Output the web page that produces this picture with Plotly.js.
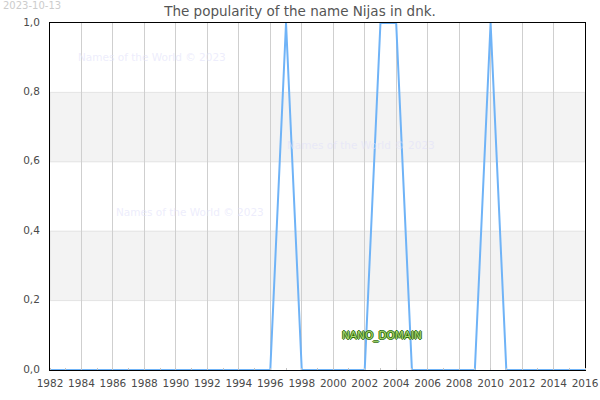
<!DOCTYPE html>
<html><head><meta charset="utf-8">
<script src="https://cdn.plot.ly/plotly-3.0.1.min.js"></script>
<style>html,body{margin:0;padding:0;background:#fff}</style></head>
<body><div id="chart" style="width:600px;height:400px"></div>
<script>
const years = [1982,1983,1984,1985,1986,1987,1988,1989,1990,1991,1992,1993,1994,1995,1996,1997,1998,1999,2000,2001,2002,2003,2004,2005,2006,2007,2008,2009,2010,2011,2012,2013,2014,2015,2016];
const popularity = [0,0,0,0,0,0,0,0,0,0,0,0,0,0,0,1,0,0,0,0,0,1,1,0,0,0,0,0,1,0,0,0,0,0,0];
const xTicks = [1982,1984,1986,1988,1990,1992,1994,1996,1998,2000,2002,2004,2006,2008,2010,2012,2014,2016];
const yTicks = [0,0.2,0.4,0.6,0.8,1.0];
const yLabels = ['0,0','0,2','0,4','0,6','0,8','1,0'];
const bands = [[0.2,0.4],[0.6,0.8]];
const titleText = 'The popularity of the name Nijas in dnk.';
const dateText = '2023-10-13';
const watermark = 'Names of the World © 2023';
const domainText = 'NANO_DOMAIN';
const fontFam = '"DejaVu Sans", sans-serif';

const shapes = bands.map(b => ({type:'rect',xref:'paper',yref:'y',x0:0,x1:1,y0:b[0],y1:b[1],
  fillcolor:'#f3f3f3',line:{color:'#e3e3e3',width:1},layer:'below'}));
const wm = (x,y)=>({xref:'paper',yref:'paper',x:x,y:y,xanchor:'left',yanchor:'middle',showarrow:false,text:watermark,
  font:{family:fontFam,size:10.5,color:'rgba(225,225,250,0.6)'}});
const annotations = [
  wm(0.049,0.902), wm(0.4395,0.648), wm(0.119,0.456),
  {xref:'x',yref:'y',x:2003.1,y:0.1,xanchor:'center',yanchor:'middle',showarrow:false,text:domainText,
   font:{family:fontFam,size:10.5,color:'#a9d86e',shadow:'1px 0 0 #2f6e0c, -1px 0 0 #2f6e0c, 0 1px 0 #2f6e0c, 0 -1px 0 #2f6e0c'}},
  {xref:'paper',yref:'paper',x:-0.0915,y:1.0725,xanchor:'left',yanchor:'top',showarrow:false,text:dateText,
   font:{family:fontFam,size:10,color:'#cccccc'}}
];
Plotly.newPlot('chart',[{x:years,y:popularity,type:'scatter',mode:'lines',cliponaxis:false,
  line:{color:'#6fb3f7',width:2},hoverinfo:'skip'}],{
  width:600,height:400,paper_bgcolor:'#fff',plot_bgcolor:'#fff',showlegend:false,
  margin:{l:50,r:15,t:23,b:30},
  title:{text:titleText,x:0.5,xanchor:'center',y:0.9725,yanchor:'middle',font:{family:fontFam,size:13.5,color:'#555'}},
  xaxis:{range:[1982,2016],tickvals:xTicks,ticktext:xTicks.map(String),showgrid:true,gridcolor:'#cfcfcf',gridwidth:1,
    zeroline:false,showline:true,linecolor:'#000',linewidth:1,mirror:true,ticks:'',ticklabelstandoff:3,ticklabelshift:-0.6,
    minor:{dtick:1,ticks:'inside',ticklen:2,tickcolor:'#c4c4c4',tickwidth:1,showgrid:false},
    tickfont:{family:fontFam,size:10.5,color:'#4a4a4a'},tickangle:0},
  yaxis:{range:[0,1],tickvals:yTicks,ticktext:yLabels,showgrid:false,zeroline:false,showline:true,linecolor:'#000',linewidth:1,mirror:true,
    ticks:'',ticklabelstandoff:7,ticklabelshift:-1,tickfont:{family:fontFam,size:10.5,color:'#4a4a4a'}},
  shapes:shapes,annotations:annotations
},{displayModeBar:false,staticPlot:true});
</script></body></html>
